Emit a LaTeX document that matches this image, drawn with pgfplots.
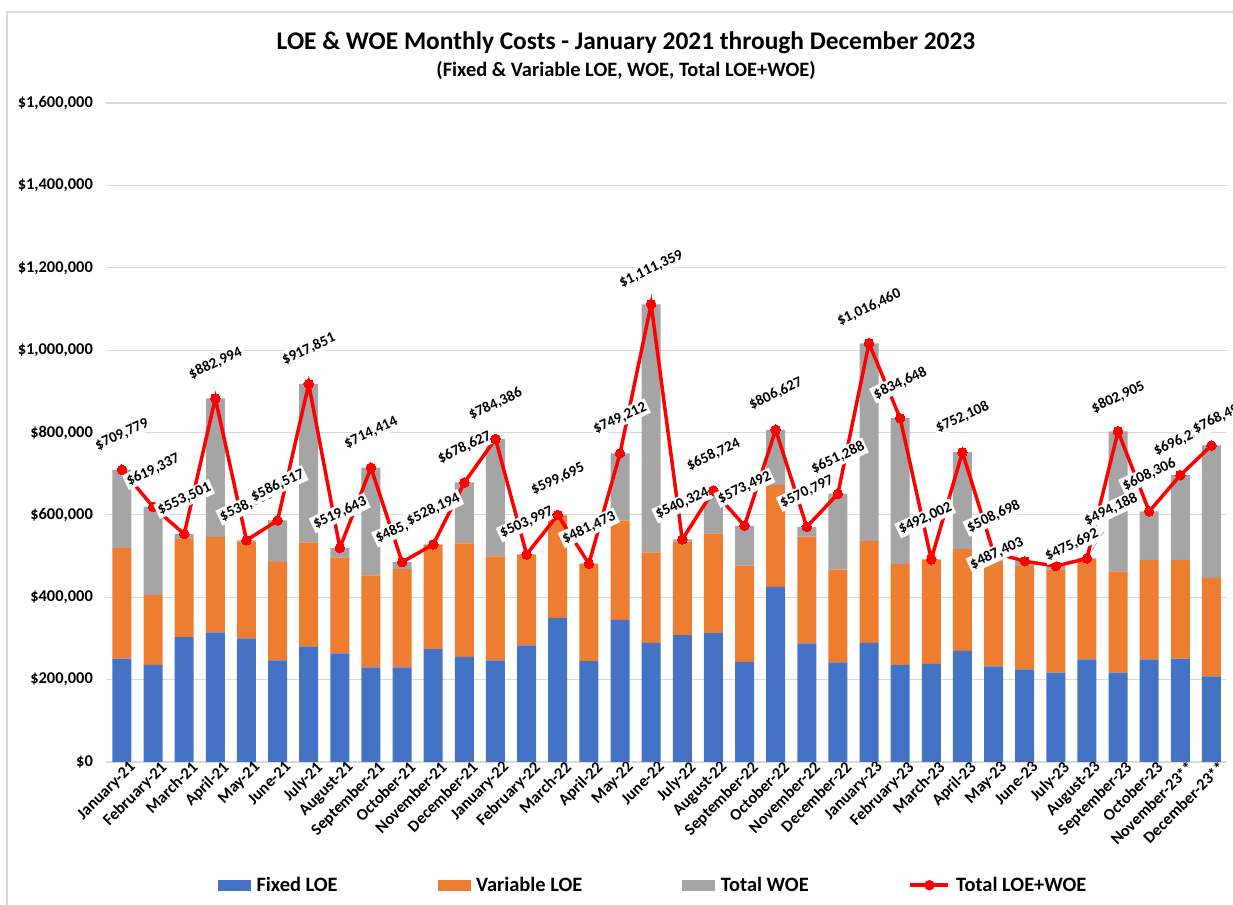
\documentclass[border=0pt]{standalone}
\usepackage{pgfplots}
\pgfplotsset{compat=1.18}
\usepackage{pgfplotstable}
\usepackage{fontspec}
\setmainfont{Carlito}
\definecolor{cBlue}{HTML}{4472C4}
\definecolor{cOrange}{HTML}{ED7D31}
\definecolor{cGray}{HTML}{A5A5A5}
\definecolor{cGrid}{HTML}{D9D9D9}
\definecolor{cRed}{HTML}{FF0000}

\pgfplotstableread{
x fixed var woe total dx dy
0 251000 268000 190779 709779 0 35
1 236000 170000 213337 619337 0 37
2 303000 240000 10501 553501 0 35
3 315000 231000 336994 882994 0 35
4 300000 235000 3300 538300 0 35
5 247000 239000 100517 586517 0 35
6 281000 252000 384851 917851 0 35
7 264000 233000 22643 519643 0 35
8 230000 223000 261414 714414 0 35
9 230000 238000 17300 485300 0 35
10 274000 254000 194 528194 0 35
11 255000 276000 147627 678627 0 35
12 247000 252000 285386 784386 0 35
13 283000 220000 997 503997 0 32
14 350000 249000 695 599695 0 36
15 245000 236000 473 481473 0 36
16 345000 241000 163212 749212 0 35
17 289000 220000 602359 1111359 0 35
18 308000 227000 5324 540324 0 36
19 313000 242000 103724 658724 0 36
20 243000 234000 96492 573492 0 38
21 425000 247000 134627 806627 0 36
22 288000 259000 23797 570797 0 35
23 242000 225000 184288 651288 0 36
24 289000 247000 480460 1016460 0 36
25 235000 246000 353648 834648 0 35
26 238000 253000 1002 492002 -6 41
27 270000 247000 235108 752108 0 35
28 232000 254000 22698 508698 0 36
29 225000 251000 11403 487403 -28 8
30 217000 250000 8692 475692 16 21
31 249000 245000 188 494188 24 49
32 217000 246000 339905 802905 0 34
33 249000 242000 117306 608306 0 37
34 251000 240000 205237 696237 0 35
35 208000 239000 321490 768490 8 28
}\data

\pgfplotsset{
  /pgf/number format/assume math mode=true,
  commonaxis/.style={
    at={(106.4bp,143bp)}, anchor=south west,
    width=1120.6bp, height=659bp, scale only axis,
    xmin=-0.5, xmax=35.5, ymin=0, ymax=1600000,
    clip=false,
  },
}

\begin{document}
\begin{tikzpicture}[font=\bfseries]
\useasboundingbox (0,0) rectangle (1233bp,905bp);
\draw[cGrid, line width=1.2bp] (7bp,-10bp) -- (7bp,893bp) -- (1250bp,893bp);

\node[font=\fontsize{25.5}{29}\selectfont\bfseries] at (626bp,862bp) {LOE \& WOE Monthly Costs - January 2021 through December 2023};
\node[font=\fontsize{20.5}{24}\selectfont\bfseries] at (626bp,835bp) {(Fixed \& Variable LOE, WOE, Total LOE+WOE)};

\begin{axis}[commonaxis,
  ybar stacked, bar width=19bp,
  axis line style={draw=none},
  major tick length=0pt,
  ymajorgrids, grid style={cGrid, line width=1.1bp},
  ytick={0,200000,...,1600000},
  scaled y ticks=false,
  yticklabel={\$\pgfmathprintnumber[fixed,precision=0,1000 sep={,}]{\tick}},
  yticklabel style={font=\fontsize{16.5}{19}\selectfont\bfseries, xshift=-10bp},
  xtick={0,...,35},
  xticklabels={January-21,February-21,March-21,April-21,May-21,June-21,July-21,August-21,September-21,October-21,November-21,December-21,January-22,February-22,March-22,April-22,May-22,June-22,July-22,August-22,September-22,October-22,November-22,December-22,January-23,February-23,March-23,April-23,May-23,June-23,July-23,August-23,September-23,October-23,November-23**,December-23**},
  xticklabel style={font=\fontsize{16.5}{19}\selectfont\bfseries, rotate=45, anchor=north east, inner sep=1bp, xshift=7bp, yshift=-2bp},
]
\addplot[fill=cBlue, draw=none] table[x=x, y=fixed] {\data};
\addplot[fill=cOrange, draw=none] table[x=x, y=var] {\data};
\addplot[fill=cGray, draw=none] table[x=x, y=woe] {\data};
\end{axis}

\begin{axis}[commonaxis,
  hide axis,
  legend columns=4,
  legend style={draw=none, fill=none, at={(0.488,-0.187)}, anchor=center,
    font=\fontsize{20.5}{24}\selectfont\bfseries,
    /tikz/every odd column/.append style={column sep=4bp},
    /tikz/every even column/.append style={column sep=98bp},
    inner sep=0pt},
  legend cell align=left,
]
\addlegendimage{legend image code/.code={\fill[cBlue] (0bp,-5bp) rectangle (32bp,5bp);}}
\addlegendentry{Fixed LOE}
\addlegendimage{legend image code/.code={\fill[cOrange] (0bp,-5bp) rectangle (32bp,5bp);}}
\addlegendentry{Variable LOE}
\addlegendimage{legend image code/.code={\fill[cGray] (0bp,-5bp) rectangle (32bp,5bp);}}
\addlegendentry{Total WOE}
\addlegendimage{legend image code/.code={\draw[cRed, line width=3.5bp] (0bp,0bp) -- (38bp,0bp); \fill[cRed] (19bp,0bp) circle (5bp);}}
\addlegendentry{Total LOE+WOE}
\draw[gray!70, line width=0.6bp] (axis cs:31,494188) -- (axis cs:31.55,560000);
\addplot[cRed, line width=3.5bp, mark=*, mark size=4.8bp, mark options={fill=cRed, draw=cRed, line width=0pt},
  point meta=explicit,
  visualization depends on={\thisrow{dx} \as \mydx},
  visualization depends on={\thisrow{dy} \as \mydy},
  nodes near coords={\$\pgfmathprintnumber[fixed,precision=0,1000 sep={,}]{\pgfplotspointmeta}},
  every node near coord/.style={anchor=center, xshift=\mydx bp, yshift=\mydy bp, rotate=25, fill=white, inner sep=2bp, text=black, font=\fontsize{15}{18}\selectfont\bfseries},
] table[x=x, y=total, meta=total] {\data};
\end{axis}
\end{tikzpicture}
\end{document}
